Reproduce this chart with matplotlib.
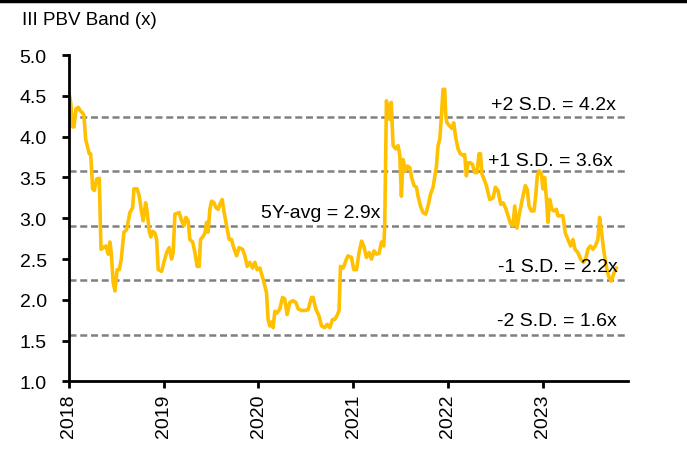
import matplotlib
matplotlib.use("Agg")
import matplotlib.pyplot as plt
from matplotlib.lines import Line2D

# PBV band data (decimal year, multiple x)
years = [
    2018.000, 2018.018, 2018.039, 2018.053, 2018.074, 2018.098, 2018.116, 2018.145, 2018.158, 2018.176,
    2018.193, 2018.214, 2018.229, 2018.250, 2018.267, 2018.292, 2018.320, 2018.338, 2018.362, 2018.390,
    2018.415, 2018.432, 2018.446, 2018.467, 2018.485, 2018.509, 2018.531, 2018.552, 2018.580, 2018.609,
    2018.643, 2018.672, 2018.686, 2018.720, 2018.742, 2018.767, 2018.784, 2018.809, 2018.826, 2018.847,
    2018.865, 2018.883, 2018.907, 2018.925, 2018.942, 2018.978, 2019.002, 2019.031, 2019.058, 2019.083,
    2019.100, 2019.118, 2019.163, 2019.189, 2019.213, 2019.234, 2019.258, 2019.276, 2019.305, 2019.329,
    2019.353, 2019.374, 2019.389, 2019.417, 2019.435, 2019.453, 2019.469, 2019.487, 2019.505, 2019.530,
    2019.551, 2019.575, 2019.593, 2019.617, 2019.638, 2019.664, 2019.691, 2019.716, 2019.733, 2019.769,
    2019.796, 2019.832, 2019.857, 2019.881, 2019.909, 2019.938, 2019.962, 2019.986, 2020.015, 2020.050,
    2020.085, 2020.102, 2020.120, 2020.138, 2020.155, 2020.173, 2020.197, 2020.226, 2020.254, 2020.278,
    2020.302, 2020.331, 2020.366, 2020.395, 2020.419, 2020.455, 2020.489, 2020.524, 2020.560, 2020.577,
    2020.605, 2020.640, 2020.666, 2020.700, 2020.725, 2020.753, 2020.782, 2020.806, 2020.830, 2020.851,
    2020.866, 2020.894, 2020.929, 2020.946, 2020.982, 2021.006, 2021.035, 2021.062, 2021.088, 2021.112,
    2021.140, 2021.168, 2021.193, 2021.220, 2021.246, 2021.273, 2021.299, 2021.323, 2021.333, 2021.351,
    2021.368, 2021.386, 2021.402, 2021.421, 2021.449, 2021.474, 2021.492, 2021.509, 2021.526, 2021.552,
    2021.573, 2021.597, 2021.621, 2021.643, 2021.668, 2021.685, 2021.710, 2021.737, 2021.766, 2021.790,
    2021.815, 2021.843, 2021.879, 2021.896, 2021.914, 2021.932, 2021.948, 2021.966, 2021.977, 2021.990,
    2022.019, 2022.043, 2022.061, 2022.082, 2022.107, 2022.132, 2022.159, 2022.177, 2022.195, 2022.212,
    2022.237, 2022.259, 2022.283, 2022.307, 2022.328, 2022.343, 2022.360, 2022.381, 2022.406, 2022.441,
    2022.476, 2022.501, 2022.529, 2022.557, 2022.582, 2022.607, 2022.634, 2022.662, 2022.687, 2022.705,
    2022.729, 2022.757, 2022.792, 2022.817, 2022.838, 2022.856, 2022.880, 2022.908, 2022.926, 2022.944,
    2022.961, 2022.986, 2023.003, 2023.021, 2023.039, 2023.056, 2023.074, 2023.098, 2023.119, 2023.145,
    2023.161, 2023.190, 2023.214, 2023.239, 2023.267, 2023.295, 2023.320, 2023.341, 2023.372, 2023.401,
    2023.429, 2023.454, 2023.478, 2023.503, 2023.531, 2023.556, 2023.583, 2023.601, 2023.619, 2023.643,
    2023.672, 2023.696, 2023.725, 2023.752, 2023.777,
]
pbv = [
    4.54, 4.42, 4.12, 4.12, 4.34, 4.36, 4.32, 4.29, 4.26, 3.97,
    3.89, 3.79, 3.79, 3.36, 3.34, 3.48, 3.49, 2.62, 2.64, 2.66,
    2.56, 2.71, 2.58, 2.21, 2.11, 2.37, 2.37, 2.50, 2.83, 2.86,
    3.07, 3.13, 3.36, 3.36, 3.27, 3.07, 2.97, 3.19, 3.07, 2.84,
    2.77, 2.84, 2.82, 2.74, 2.37, 2.35, 2.46, 2.58, 2.64, 2.50,
    2.58, 3.05, 3.07, 2.97, 2.91, 3.01, 2.97, 2.74, 2.71, 2.58,
    2.41, 2.41, 2.74, 2.78, 2.82, 2.95, 2.83, 3.11, 3.21, 3.19,
    3.13, 3.11, 3.17, 3.23, 3.07, 2.91, 2.74, 2.74, 2.66, 2.54,
    2.64, 2.62, 2.54, 2.41, 2.46, 2.39, 2.46, 2.37, 2.39, 2.25,
    2.09, 1.76, 1.68, 1.73, 1.66, 1.86, 1.84, 1.89, 2.03, 2.01,
    1.82, 1.97, 1.99, 1.97, 1.89, 1.87, 1.87, 1.88, 2.03, 2.03,
    1.89, 1.80, 1.68, 1.66, 1.70, 1.66, 1.76, 1.76, 1.81, 1.87,
    2.41, 2.39, 2.50, 2.54, 2.52, 2.37, 2.37, 2.58, 2.72, 2.66,
    2.52, 2.58, 2.50, 2.60, 2.56, 2.57, 2.71, 2.66, 2.91, 4.44,
    4.30, 4.21, 4.42, 3.89, 3.85, 3.89, 3.77, 3.27, 3.72, 3.58,
    3.64, 3.62, 3.48, 3.40, 3.38, 3.27, 3.15, 3.07, 3.05, 3.15,
    3.29, 3.38, 3.64, 3.89, 3.97, 4.26, 4.58, 4.58, 4.26, 4.17,
    4.13, 4.10, 4.17, 3.99, 3.85, 3.79, 3.77, 3.78, 3.52, 3.68,
    3.68, 3.66, 3.56, 3.56, 3.79, 3.79, 3.54, 3.48, 3.40, 3.23,
    3.25, 3.38, 3.34, 3.17, 3.19, 3.13, 3.03, 2.93, 2.91, 3.15,
    2.88, 3.07, 3.27, 3.40, 3.35, 3.15, 3.09, 3.09, 3.27, 3.52,
    3.58, 3.55, 3.36, 3.50, 3.25, 2.95, 3.23, 3.11, 3.09, 3.11,
    3.03, 3.03, 3.03, 2.82, 2.74, 2.66, 2.74, 2.62, 2.58, 2.50,
    2.46, 2.50, 2.62, 2.66, 2.62, 2.66, 2.74, 3.01, 2.86, 2.62,
    2.41, 2.29, 2.23, 2.33, 2.39,
]

# band levels and their labels
band_values = [4.24, 3.58, 2.90, 2.24, 1.57]
band_labels = ["+2 S.D. = 4.2x", "+1 S.D. = 3.6x", "5Y-avg = 2.9x", "-1 S.D. = 2.2x", "-2 S.D. = 1.6x"]
year_ticks = [2018, 2019, 2020, 2021, 2022, 2023]
y_ticks = [1.0, 1.5, 2.0, 2.5, 3.0, 3.5, 4.0, 4.5, 5.0]

plt.rcParams['font.family'] = ['Liberation Sans', 'DejaVu Sans']

fig = plt.figure(figsize=(6.87, 4.52), dpi=100)
ax = fig.add_axes([0.1004, 0.1538, 0.8136, 0.7222])

for v in band_values:
    ax.axhline(v, color='#808080', lw=1.8, ls=(0, (2.8, 1.5)), zorder=1)

ax.plot(years, pbv, color='#FFC000', lw=2.6, zorder=2)

# label placement (x, y, alignment)
label_pos = [
    (2023.77, 4.40, 'right'),
    (2023.74, 3.71, 'right'),
    (2020.03, 3.07, 'left'),
    (2023.79, 2.41, 'right'),
    (2023.78, 1.75, 'right'),
]
for lab, (lx, ly, ha) in zip(band_labels, label_pos):
    ax.text(lx, ly, lab, ha=ha, va='center', fontsize=14, color='black', zorder=3)

ax.set_xlim(2018, 2023.9)
ax.set_ylim(1.0, 5.0)
ax.set_xticks(year_ticks)
ax.set_xticklabels([str(y) for y in year_ticks], rotation=90, fontsize=14)
ax.set_yticks(y_ticks)
ax.set_yticklabels(["%.1f" % t for t in y_ticks], fontsize=14)

for s in ['top', 'right']:
    ax.spines[s].set_visible(False)
for s in ['left', 'bottom']:
    ax.spines[s].set_linewidth(2)
ax.tick_params(axis='both', direction='out', length=5, width=2)
ax.tick_params(axis='y', pad=11)
ax.tick_params(axis='x', pad=4)

fig.text(0.032, 0.955, "III PBV Band (x)", fontsize=13.5, ha='left', va='center')
fig.add_artist(Line2D([0, 1], [0.995, 0.995], transform=fig.transFigure, color='black', lw=2.5))

fig.savefig("out.png", dpi=100)
